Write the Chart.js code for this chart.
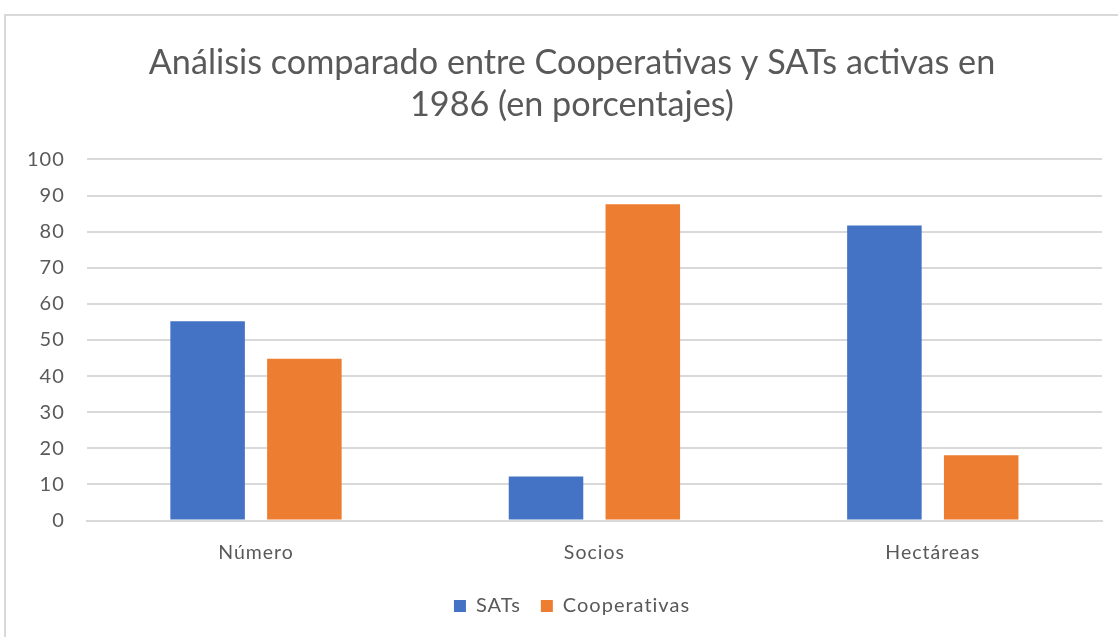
<!DOCTYPE html>
<html>
<head>
<meta charset="utf-8">
<script src="https://cdn.jsdelivr.net/npm/chart.js@4"></script>
<style>
  html, body { margin: 0; padding: 0; background: #fff; overflow: hidden; }
  #wrap { position: absolute; left: 0; top: 0; width: 1118px; height: 637px; }
  #frame { position: absolute; left: 4px; top: 14px; width: 1200px; height: 700px;
           border-left: 2px solid #d9d9d9; border-top: 2px solid #d9d9d9; pointer-events: none; }
</style>
</head>
<body>
<div id="wrap"><canvas id="chart"></canvas></div>
<div id="frame"></div>
<script>
const categories = ['Número', 'Socios', 'Hectáreas'];
const sats = [55.2, 12.2, 81.7];
const cooperativas = [44.8, 87.6, 18.1];
const titleLines = ['Análisis comparado entre Cooperativas y SATs activas en', '1986 (en porcentajes)'];

const fontFamily = 'Lato, "Open Sans", sans-serif';
const textColor = '#595959';
const headCenter = 572; // the frame is wider than the window, so title and legend sit left of the plot centre

// small letter spacing for axis and legend text, none for the title
const spacing = {
    id: 'spacing',
    beforeLayout(chart) { chart.ctx.letterSpacing = '1px'; },
    beforeDraw(chart) { chart.ctx.letterSpacing = '1px'; },
    afterLayout(chart) {
        [chart.titleBlock, chart.legend].forEach(box => {
            const dx = headCenter - (box.left + box.right) / 2;
            box.left += dx;
            box.right += dx;
        });
        const tb = chart.titleBlock;
        if (!tb._wrapped) {
            const orig = tb.draw;
            tb.draw = function() {
                chart.ctx.save();
                chart.ctx.letterSpacing = '0px';
                orig.apply(this, arguments);
                chart.ctx.restore();
            };
            tb._wrapped = true;
        }
    }
};

const ctx = document.getElementById('chart').getContext('2d');
new Chart(ctx, {
    type: 'bar',
    data: {
        labels: categories,
        datasets: [{
            label: 'SATs',
            data: sats,
            backgroundColor: '#4472c4',
            categoryPercentage: 0.572,
            barPercentage: 0.77
        }, {
            label: 'Cooperativas',
            data: cooperativas,
            backgroundColor: '#ed7d31',
            categoryPercentage: 0.572,
            barPercentage: 0.77
        }]
    },
    options: {
        responsive: true,
        maintainAspectRatio: false,
        animation: false,
        layout: {
            padding: { left: 5, right: 16, top: 42, bottom: 11 }
        },
        plugins: {
            title: {
                display: true,
                text: titleLines,
                color: textColor,
                font: { family: fontFamily, size: 34.2, weight: 'normal', lineHeight: 1.22 },
                padding: { top: 0, bottom: 34 }
            },
            legend: {
                position: 'bottom',
                labels: {
                    color: textColor,
                    font: { family: fontFamily, size: 20 },
                    boxWidth: 12,
                    boxHeight: 12,
                    padding: 20
                }
            },
            tooltip: { enabled: false }
        },
        scales: {
            x: {
                grid: { display: false },
                border: { color: '#d9d9d9', width: 2 },
                ticks: {
                    color: textColor,
                    font: { family: fontFamily, size: 19.5 },
                    padding: 12
                }
            },
            y: {
                min: 0,
                max: 100,
                grid: { color: '#d9d9d9', lineWidth: 2, drawTicks: false },
                border: { display: false },
                ticks: {
                    stepSize: 10,
                    color: textColor,
                    font: { family: fontFamily, size: 20 },
                    padding: 22
                }
            }
        }
    },
    plugins: [spacing]
});
</script>
</body>
</html>
